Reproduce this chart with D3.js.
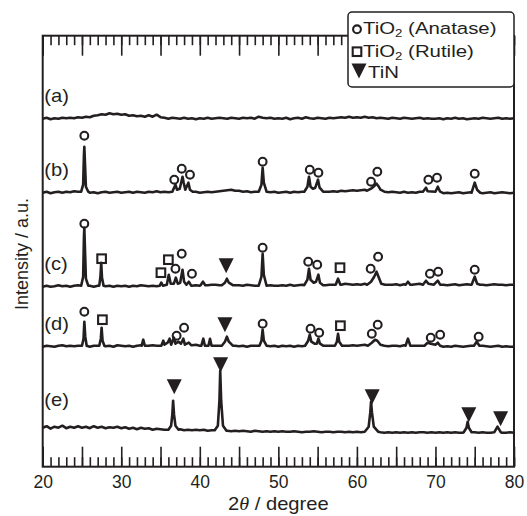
<!DOCTYPE html>
<html>
<head>
<meta charset="utf-8">
<script src="https://cdn.jsdelivr.net/npm/d3@7"></script>
<style>
body { margin: 0; background: #fff; }
text { font-family: "Liberation Sans", Arial, Helvetica, sans-serif; fill: #231f20; }
</style>
</head>
<body>
<svg width="527" height="516"></svg>
<script>
// 2theta grid for the background of each pattern (every 0.5 degree)
var grid = d3.range(20, 80.001, 0.5);

var traceNames = ["(a)", "(b)", "(c)", "(d)", "(e)"];
// vertical offset of each pattern (a.u.)
var offsets = [348, 274, 180, 120, 34];

// background, one value per grid step
var noiseA = [
  0,1,-0.5,0.5,0,1,0.5,1,0.5,1.5,
  1,2,1.5,3,3.5,4.5,4,5.5,4.5,5,
  4,4.5,3,3.5,2.5,3,2,3.5,2,4,
  1.5,1,0,1,0.5,0,1,0,0.5,-0.5,
  0.5,0,1,0,0.5,1,0.5,0,1,0.5,
  0,1,0.5,1,0,2,1,0.5,1,0,
  0.5,0,1,-0.5,0.5,1,0,1.5,0.5,0,
  1,0.5,0,1,0.5,1,1.5,1,2,1,
  1.5,1,2,1,1.5,0.5,1,0.5,0,1,
  0.5,0,1,0.5,0,0.5,1,0,0.5,0,
  0,0.5,-0.5,0.5,0,1,0,0.5,-0.5,0,
  0.5,0,1,0.5,0,0.5,1,0,0.5,0,
  0.5];
var noiseB = [
  0,1,-0.5,0.5,1,0,1,0.5,1.5,1,
  1,1,0,0.5,-0.5,0.5,1,0,0.5,1,
  0,0.5,1,0,1,0.5,0,1,0.5,1.5,
  0.5,1,0.5,1,1,1,1,1,0.5,1,
  0,0.5,1,0.5,1,1.5,2,2.5,3,2,
  2,1,1.5,0.5,1,1,1,1,0.5,1,
  0,0.5,1,0,1,0.5,1,1.5,1,1,
  1,0.5,1,1,1.5,1,2,1.5,2,2.5,
  2,2.5,3,2,2,3,2,1,0.5,1,
  0.5,0,1,0,0.5,0,1,0.5,1,0,
  0.5,0,-0.5,0,-0.5,0,0.5,-0.5,0,0.5,
  0.5,0,-0.5,0,0.5,-0.5,0,0.5,0,-0.5,
  0];
var noiseC = [
  0,1,0,0.5,1.5,0.5,1,0,1,1.5,
  1,1,1,0,1,0.5,0.5,1,0,1,
  0.5,1,0,1,0.5,1.5,1,0.5,1,0.5,
  1,1,1,1,1,1,1,1,1,1.5,
  1,1,1.5,2,2,1.5,1,1,1,1.5,
  1.5,1,2,1.5,1,1,1,1,1.5,1,
  1,1.5,1,2,1,1.5,2,2.5,1,1,
  1,1,1.5,2,2,2.5,2,3,2.5,2,
  2.5,2,3,2,2,2,2,2.5,2,2,
  2.5,1.5,2.5,2,2,2.5,3,2.5,2,2,
  2.5,2,2,1.5,2,2.5,1.5,2,2.5,2,
  2,2.5,2,1.5,2,2.5,2,2,1.5,2,
  2];
var noiseD = [
  0,1,0.5,0,1,1.5,0.5,1,0.5,1,
  1,1,0,1,1,1,0.5,1,0,1.5,
  1,0.5,1,0,1,1.5,0.5,1,1.5,1,
  1,1,1,1,1,1,1,1,1.5,2,
  1,1.5,1,2,1,1,1,1,0.5,1,
  0.5,1,0,1,1,1,1,1,0.5,1,
  0,1,0.5,1,0,1,0.5,1.5,1,1,
  1,0.5,1,1,1,1.5,0.5,1,1,1.5,
  1,1.5,2,1,1,1,1,1,0.5,1,
  1,0.5,1.5,1,1,1,1,1,1,1,
  0.5,1,0,0.5,0,1,0.5,0,0.5,1,
  0.5,0,1,0.5,0,0.5,1,0,0.5,0,
  0];
var noiseE = [
  5,6.5,4,6,5,7,4.5,6,5,6.5,
  5,6,4.5,6.5,5,6,4.5,5.5,5,6,
  4.5,5.5,4,5,3.5,5,4,4.5,3,4,
  3.5,3,3,3,3,3.5,2.5,3,2.5,3,
  2.5,3,2,2.5,2,2,2,2,1.5,2,
  1.5,2,1.5,1,2,1.5,1,1.5,1,1.5,
  1,1.5,1,1,1.5,1,0.5,1,1,1.5,
  1,0.5,1,1,0.5,1,1,0.5,1,0.5,
  1,0.5,1,1,1,1,0.5,0,0.5,0,
  0.5,0,0.5,0,0.5,0,0.5,0.5,0,0.5,
  0,0.5,0,0.5,0,0.5,0,0,0,0,
  0.5,0,0.5,0,0,0.5,0,0,0,0.5,
  0];

// diffraction peaks: [2theta, intensity] vertices
var peaksA = [];
var peaksB = [
  [[24.9,1],[25.15,8],[25.25,38],[25.3,46],[25.38,30],[25.5,6],[25.8,1]],
  [[36.5,1],[36.9,8],[37.1,3],[37.45,4],[37.8,16],[37.95,10],[38.15,3],[38.55,10],[38.75,3],[39.1,1]],
  [[47.5,1],[47.85,8],[48.0,25],[48.15,10],[48.5,1]],
  [[53.3,1],[53.7,6],[53.9,16],[54.1,6],[54.4,4],[54.7,5],[55.05,13],[55.25,5],[55.7,1]],
  [[61.3,2],[61.8,4],[62.1,6],[62.5,9],[62.7,7],[63.0,3],[63.5,1]],
  [[68.4,1],[68.8,5],[69.0,1.5],[70.0,1],[70.3,6],[70.6,1]],
  [[74.6,0],[75.0,10],[75.3,3],[75.7,0]]
];
var peaksC = [
  [[24.9,1],[25.15,10],[25.25,50],[25.3,59],[25.38,38],[25.5,8],[25.8,1]],
  [[27.2,1],[27.35,10],[27.45,24],[27.55,9],[27.75,1]],
  [[34.9,1],[35.1,4],[35.3,1],[35.8,2],[36.05,12],[36.3,3],[36.7,3],[36.95,9],[37.2,3],[37.5,4],[37.8,17],[38.0,5],[38.3,2],[38.6,5],[38.9,1]],
  [[40.1,1.5],[40.4,5],[40.7,1.5]],
  [[42.8,1.5],[43.2,4],[43.45,8],[43.7,4],[44.2,1.5]],
  [[47.5,1],[47.85,10],[48.0,33],[48.15,12],[48.5,1]],
  [[53.3,1.5],[53.7,7],[53.9,18],[54.1,7],[54.5,4],[54.8,5],[55.1,12],[55.3,4],[55.7,1.5]],
  [[57.3,2],[57.6,8],[57.9,2]],
  [[61.3,2],[61.8,5],[62.2,10],[62.5,15],[62.75,10],[63.1,3],[63.6,2]],
  [[66.2,2],[66.5,5],[66.8,2]],
  [[68.4,2],[68.8,6],[69.1,3],[69.8,2],[70.3,6],[70.6,2]],
  [[74.6,2],[75.0,10],[75.3,3],[75.7,2]]
];
var peaksD = [
  [[25.0,1],[25.2,8],[25.3,25],[25.42,10],[25.6,1]],
  [[27.2,1],[27.4,8],[27.5,19],[27.62,6],[27.85,1]],
  [[32.6,1],[32.8,7],[33.0,1]],
  [[35.1,1],[35.35,6],[35.5,2],[35.9,4],[36.15,8],[36.35,2],[36.7,9],[36.9,3],[37.3,5],[37.6,3],[37.9,8],[38.1,2],[38.6,4],[38.9,1.5]],
  [[40.2,1],[40.45,8],[40.65,1]],
  [[41.1,1],[41.3,8],[41.5,1]],
  [[42.8,1],[43.2,5],[43.45,10],[43.7,5],[44.2,1]],
  [[47.6,1],[47.85,6],[48.0,17],[48.15,6],[48.5,1]],
  [[53.4,1],[53.8,6],[54.0,12],[54.2,5],[54.6,3],[54.9,3],[55.1,8],[55.3,3],[55.7,1]],
  [[57.2,1],[57.45,5],[57.6,13],[57.75,5],[58.1,1]],
  [[61.4,1],[61.9,4],[62.3,7],[62.6,6],[63.0,2],[63.5,1]],
  [[66.2,1],[66.5,8],[66.8,1]],
  [[68.6,1],[69.0,4],[69.4,3],[70.0,2],[70.3,4],[70.6,1]],
  [[74.9,1],[75.25,5],[75.6,1]]
];
var peaksE = [
  [[36.0,3],[36.35,7],[36.5,18],[36.6,32],[36.72,18],[36.9,7],[37.3,3]],
  [[41.9,2.5],[42.3,7],[42.5,32],[42.6,62],[42.72,32],[42.95,7],[43.4,2]],
  [[61.0,1],[61.5,6],[61.7,20],[61.8,31],[61.92,20],[62.15,6],[62.7,1]],
  [[73.6,0.5],[73.95,5],[74.1,11],[74.25,5],[74.6,0.5]],
  [[77.5,0.5],[77.9,6],[78.3,0.5]]
];

// phase markers: [pattern index, 2theta, height above the pattern (a.u.)]
var anatase = [
  [1,25.3,57],[1,36.75,13],[1,37.7,24],[1,38.75,18],[1,48.0,31],[1,54.0,23],[1,55.1,20],
  [1,61.8,11],[1,62.6,21],[1,69.1,13],[1,70.2,15],[1,75.0,19],
  [2,25.3,63],[2,36.9,18],[2,37.7,33],[2,39.0,13],[2,48.0,39],[2,53.8,25],[2,54.95,22],
  [2,61.75,18],[2,62.7,30],[2,69.3,13],[2,70.35,15],[2,75.0,17],
  [3,25.3,35],[3,37.05,11],[3,38.0,19],[3,48.0,23],[3,54.1,18],[3,55.2,14],
  [3,61.9,13],[3,62.65,22],[3,69.4,9],[3,70.6,12],[3,75.5,10]
];
var rutile = [
  [2,27.5,28],[2,35.05,14],[2,36.0,27],[2,57.85,19],
  [3,27.6,27],[3,57.9,21]
];
var tin = [
  [2,43.35,21],[3,43.2,22],
  [4,36.75,46],[4,42.65,68],[4,61.95,36],[4,74.25,18],[4,78.3,14]
];

var majorTicks = d3.range(20, 80.001, 5);
var minorTicks = d3.range(20, 80.001, 1);
var labelTicks = [20, 30, 40, 50, 60, 70, 80];

var svg = d3.select("svg"),
    margin = {left: 42.7, top: 35.7, right: 13, bottom: 49.3},
    width = 527 - margin.left - margin.right,
    height = 516 - margin.top - margin.bottom,
    ink = "#231f20";

var x = d3.scaleLinear().domain([20, 80]).range([margin.left, margin.left + width]);
var y = d3.scaleLinear().domain([0, 431]).range([margin.top + height, margin.top]);

function buildSeries(noise, peaks) {
  var pts = grid.map(function(g, i) { return [g, noise[i]]; });
  peaks.forEach(function(p) {
    var lo = p[0][0], hi = p[p.length - 1][0];
    pts = pts.filter(function(q) { return q[0] < lo || q[0] > hi; }).concat(p);
  });
  return pts.sort(function(a, b) { return a[0] - b[0]; });
}

var series = [
  buildSeries(noiseA, peaksA),
  buildSeries(noiseB, peaksB),
  buildSeries(noiseC, peaksC),
  buildSeries(noiseD, peaksD),
  buildSeries(noiseE, peaksE)
];

// ticks, inward on top and bottom
function tickAxis(axis, ticks, size) {
  return axis.tickValues(ticks).tickSize(-size).tickSizeOuter(0).tickFormat("");
}
var bottomY = margin.top + height;
svg.append("g").attr("transform", "translate(0," + bottomY + ")")
  .call(tickAxis(d3.axisBottom(x), minorTicks, 9.5));
svg.append("g").attr("transform", "translate(0," + bottomY + ")")
  .call(tickAxis(d3.axisBottom(x), majorTicks, 20));
svg.append("g").attr("transform", "translate(0," + margin.top + ")")
  .call(tickAxis(d3.axisTop(x), minorTicks, 9.5));
svg.append("g").attr("transform", "translate(0," + margin.top + ")")
  .call(tickAxis(d3.axisTop(x), majorTicks, 20));
svg.selectAll(".domain").remove();
svg.selectAll(".tick line").attr("stroke", ink).attr("stroke-width", 1.6);

var labels = svg.append("g").attr("transform", "translate(0," + bottomY + ")")
  .call(d3.axisBottom(x).tickValues(labelTicks).tickSize(0).tickPadding(9));
labels.select(".domain").remove();
labels.selectAll("text").attr("font-size", 17.5).attr("fill", ink)
  .attr("font-family", "'Liberation Sans', Arial, sans-serif");

// frame
svg.append("rect")
  .attr("x", margin.left).attr("y", margin.top)
  .attr("width", width).attr("height", height)
  .attr("fill", "none").attr("stroke", ink).attr("stroke-width", 2);

// patterns
var line = d3.line()
  .x(function(d) { return x(d[0]); })
  .y(function(d) { return y(d[1] + d.off); });

series.forEach(function(s, i) {
  var pts = s.map(function(d) { var p = [d[0], d[1]]; p.off = offsets[i]; return p; });
  svg.append("path")
    .datum(pts)
    .attr("d", line)
    .attr("fill", "none")
    .attr("stroke", ink)
    .attr("stroke-width", 2.6)
    .attr("stroke-linejoin", "round");
});

var labelLift = [17, 17, 17, 17, 27];
svg.selectAll("text.trace")
  .data(traceNames)
  .enter().append("text")
  .attr("class", "trace")
  .attr("transform", function(d, i) {
    return "translate(" + x(20.2) + "," + y(offsets[i] + labelLift[i]) + ") scale(1.15,1)";
  })
  .attr("font-size", 17.5)
  .text(function(d) { return d; });

// markers
svg.selectAll("circle.anatase")
  .data(anatase)
  .enter().append("circle")
  .attr("class", "anatase")
  .attr("cx", function(d) { return x(d[1]); })
  .attr("cy", function(d) { return y(offsets[d[0]] + d[2]); })
  .attr("r", 3.9)
  .attr("fill", "none").attr("stroke", ink).attr("stroke-width", 2.1);

svg.selectAll("rect.rutile")
  .data(rutile)
  .enter().append("rect")
  .attr("class", "rutile")
  .attr("x", function(d) { return x(d[1]) - 4.3; })
  .attr("y", function(d) { return y(offsets[d[0]] + d[2]) - 4.3; })
  .attr("width", 8.6).attr("height", 8.6)
  .attr("fill", "none").attr("stroke", ink).attr("stroke-width", 2.1);

var triPath = "M-7.5,-7.5L7.5,-7.5L0,7.5Z";
svg.selectAll("path.tin")
  .data(tin)
  .enter().append("path")
  .attr("class", "tin")
  .attr("d", triPath)
  .attr("transform", function(d) { return "translate(" + x(d[1]) + "," + y(offsets[d[0]] + d[2]) + ")"; })
  .attr("fill", ink);

// legend
var lg = svg.append("g").attr("transform", "translate(348,12)");
lg.append("rect").attr("width", 166).attr("height", 75).attr("rx", 4)
  .attr("fill", "#fff").attr("stroke", ink).attr("stroke-width", 1.5);
lg.append("circle").attr("cx", 9).attr("cy", 17.3).attr("r", 3.9)
  .attr("fill", "none").attr("stroke", ink).attr("stroke-width", 2.1);
lg.append("rect").attr("x", 4.7).attr("y", 35.4).attr("width", 8.6).attr("height", 8.6)
  .attr("fill", "none").attr("stroke", ink).attr("stroke-width", 2.1);
lg.append("path").attr("d", triPath).attr("transform", "translate(11,59)").attr("fill", ink);

function phaseLabel(ty, sub, rest) {
  var t = lg.append("text")
    .attr("transform", "translate(15," + ty + ") scale(1.2,1)")
    .attr("font-size", 17);
  t.append("tspan").text("TiO");
  t.append("tspan").attr("font-size", 11).attr("dy", 3).text(sub);
  t.append("tspan").attr("dy", -3).text(rest);
}
phaseLabel(21.8, "2", " (Anatase)");
phaseLabel(44.5, "2", " (Rutile)");
lg.append("text").attr("transform", "translate(20,65.5) scale(1.2,1)")
  .attr("font-size", 17).text("TiN");

// axis titles
svg.append("text")
  .attr("transform", "translate(28,254) rotate(-90)")
  .attr("text-anchor", "middle")
  .attr("font-size", 18)
  .text("Intensity / a.u.");

var xt = svg.append("text")
  .attr("transform", "translate(" + x(50) + ",510) scale(1.12,1)")
  .attr("text-anchor", "middle")
  .attr("font-size", 18);
xt.append("tspan").text("2");
xt.append("tspan").attr("font-style", "italic")
  .attr("font-family", "'Liberation Serif', 'Times New Roman', serif").text("θ");
xt.append("tspan").text(" / degree");
</script>
</body>
</html>
